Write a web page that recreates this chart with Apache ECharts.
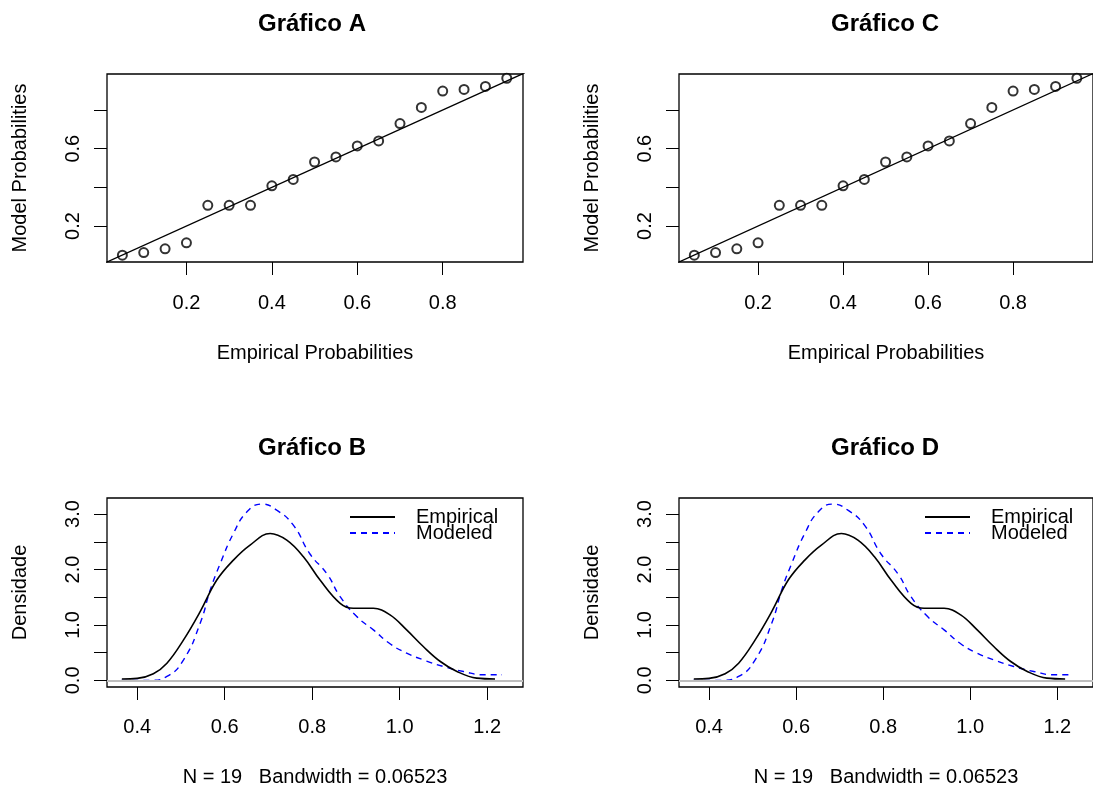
<!DOCTYPE html>
<html>
<head>
<meta charset="utf-8">
<script src="https://cdn.jsdelivr.net/npm/echarts@6/dist/echarts.min.js"></script>
<style>
  html, body { margin: 0; padding: 0; background: #fff; }
  #chart { width: 1093px; height: 792px; }
</style>
</head>
<body>
<div id="chart"></div>
<script>
// PP-plot data (Gráfico A / C)
const empiricalProb = [0.05, 0.10, 0.15, 0.20, 0.25, 0.30, 0.35, 0.40, 0.45, 0.50,
  0.55, 0.60, 0.65, 0.70, 0.75, 0.80, 0.85, 0.90, 0.95];
const modelProb = [0.049, 0.063, 0.082, 0.113, 0.307, 0.307, 0.307, 0.408, 0.441, 0.531,
  0.557, 0.614, 0.640, 0.730, 0.813, 0.898, 0.906, 0.922, 0.964];
const identityLine = [0, 1]; // abline(0, 1)
const probTicks = [0.2, 0.4, 0.6, 0.8];
const probYLabels = [0.2, 0.6];

// density data (Gráfico B / D)
const empX = [0.365, 0.400, 0.437, 0.468, 0.506, 0.544, 0.582, 0.620, 0.658, 0.704, 0.742,
  0.780, 0.818, 0.864, 0.894, 0.940, 0.978, 1.016, 1.054, 1.093, 1.131, 1.176, 1.218];
const empY = [0.025, 0.036, 0.12, 0.31, 0.73, 1.24, 1.81, 2.17, 2.44, 2.65, 2.53,
  2.23, 1.81, 1.39, 1.30, 1.30, 1.18, 0.91, 0.61, 0.34, 0.16, 0.04, 0.025];
const modX = [0.364, 0.430, 0.468, 0.506, 0.544, 0.567, 0.590, 0.620, 0.651, 0.685, 0.719, 0.757,
  0.795, 0.834, 0.864, 0.902, 0.940, 0.978, 1.016, 1.054, 1.100, 1.146, 1.192, 1.234];
const modY = [0.0, 0.0, 0.07, 0.37, 1.03, 1.63, 2.11, 2.65, 3.04, 3.18, 3.07, 2.80,
  2.28, 1.92, 1.51, 1.15, 0.91, 0.66, 0.49, 0.37, 0.25, 0.16, 0.10, 0.10];
const densXTicks = [0.4, 0.6, 0.8, 1.0, 1.2];
const densYTicks = [0, 0.5, 1.0, 1.5, 2.0, 2.5, 3.0];
const densYLabels = [0, 1, 2, 3];

const titles = ['Gráfico A', 'Gráfico C', 'Gráfico B', 'Gráfico D'];
const densityNote = 'N = 19   Bandwidth = 0.06523';

const font = "'Liberation Sans', Arial, sans-serif";
const txt = { fontFamily: font, fontSize: 20, color: '#000' };

// posição dos 4 paineis (A, C, B, D)
const grids = [
  { left: 107, top: 74, width: 416, height: 188 },
  { left: 679, top: 74, width: 414, height: 188 },
  { left: 107, top: 498, width: 416, height: 189 },
  { left: 679, top: 498, width: 414, height: 189 }
];

const chart = echarts.init(document.getElementById('chart'));

function xAxisFor(i) {
  const isPP = i < 2;
  return {
    type: 'value',
    gridIndex: i,
    min: isPP ? 0.014 : 0.331,
    max: isPP ? 0.988 : 1.282,
    name: isPP ? 'Empirical Probabilities' : densityNote,
    nameLocation: 'middle',
    nameGap: isPP ? 81 : 80,
    nameTextStyle: txt,
    axisLine: { show: false, onZero: false },
    axisTick: {
      show: true, length: 13, inside: false,
      lineStyle: { color: '#000', width: 1 },
      customValues: isPP ? probTicks : densXTicks
    },
    axisLabel: {
      ...txt,
      margin: isPP ? 31 : 30,
      customValues: isPP ? probTicks : densXTicks,
      formatter: (v) => v.toFixed(1)
    },
    splitLine: { show: false }
  };
}

function yAxisFor(i) {
  const isPP = i < 2;
  return {
    type: 'value',
    gridIndex: i,
    min: isPP ? 0.014 : -0.12,
    max: isPP ? 0.986 : 3.29,
    name: isPP ? 'Model Probabilities' : 'Densidade',
    nameLocation: 'middle',
    nameGap: 77,
    nameTextStyle: txt,
    axisLine: { show: false, onZero: false },
    axisTick: {
      show: true, length: 13,
      lineStyle: { color: '#000', width: 1 },
      customValues: isPP ? probTicks : densYTicks
    },
    axisLabel: {
      ...txt,
      rotate: 90,
      margin: 24,
      customValues: isPP ? probYLabels : densYLabels,
      formatter: (v) => v.toFixed(1)
    },
    splitLine: { show: false }
  };
}

const series = [];
[0, 1].forEach((g) => {
  series.push({
    type: 'scatter',
    xAxisIndex: g, yAxisIndex: g,
    data: empiricalProb.map((x, k) => [x, modelProb[k]]),
    symbol: 'emptyCircle',
    symbolSize: 9,
    itemStyle: { color: '#000', borderColor: '#222', borderWidth: 1 },
    silent: true
  });
  series.push({
    type: 'line',
    xAxisIndex: g, yAxisIndex: g,
    data: identityLine.map((v) => [v, v]),
    symbol: 'none',
    clip: true,
    lineStyle: { color: '#000', width: 1.3 },
    silent: true
  });
});
[2, 3].forEach((g) => {
  series.push({
    name: 'Empirical',
    type: 'line',
    xAxisIndex: g, yAxisIndex: g,
    data: empX.map((x, k) => [x, empY[k]]),
    symbol: 'none',
    smooth: 0.4,
    lineStyle: { color: '#000', width: 1.6 },
    itemStyle: { color: '#000' },
    markLine: {
      silent: true,
      symbol: ['none', 'none'],
      label: { show: false },
      lineStyle: { color: '#BEBEBE', type: 'solid', width: 2 },
      data: [{ yAxis: 0 }]
    },
    z: 3
  });
  series.push({
    name: 'Modeled',
    type: 'line',
    xAxisIndex: g, yAxisIndex: g,
    data: modX.map((x, k) => [x, modY[k]]),
    symbol: 'none',
    smooth: 0.5,
    lineStyle: { color: '#0000FF', width: 1.4, type: [6, 5] },
    itemStyle: { color: '#0000FF' },
    z: 2
  });
});

const option = {
  animation: false,
  backgroundColor: '#fff',
  title: grids.map((gr, i) => ({
    text: titles[i],
    left: gr.left + gr.width / 2 - (i % 2 === 1 ? 1 : 3),
    top: i < 2 ? 12 : 436,
    textAlign: 'center',
    padding: 0,
    textStyle: { fontFamily: font, fontSize: 24, fontWeight: 'bold', color: '#000' }
  })),
  legend: [349, 924].map((left) => ({
    data: ['Empirical', 'Modeled'],
    orient: 'vertical',
    left: left,
    top: 507,
    padding: 0,
    itemGap: -4,
    itemWidth: 45,
    itemHeight: 14,
    selectedMode: false,
    itemStyle: { opacity: 0 },
    textStyle: { ...txt, padding: [0, 0, 0, 16] }
  })),
  grid: grids.map((gr) => ({
    ...gr,
    show: true,
    borderColor: '#000',
    borderWidth: 1.3,
    backgroundColor: 'transparent',
    containLabel: false
  })),
  xAxis: [0, 1, 2, 3].map(xAxisFor),
  yAxis: [0, 1, 2, 3].map(yAxisFor),
  series: series
};

chart.setOption(option);
</script>
</body>
</html>
